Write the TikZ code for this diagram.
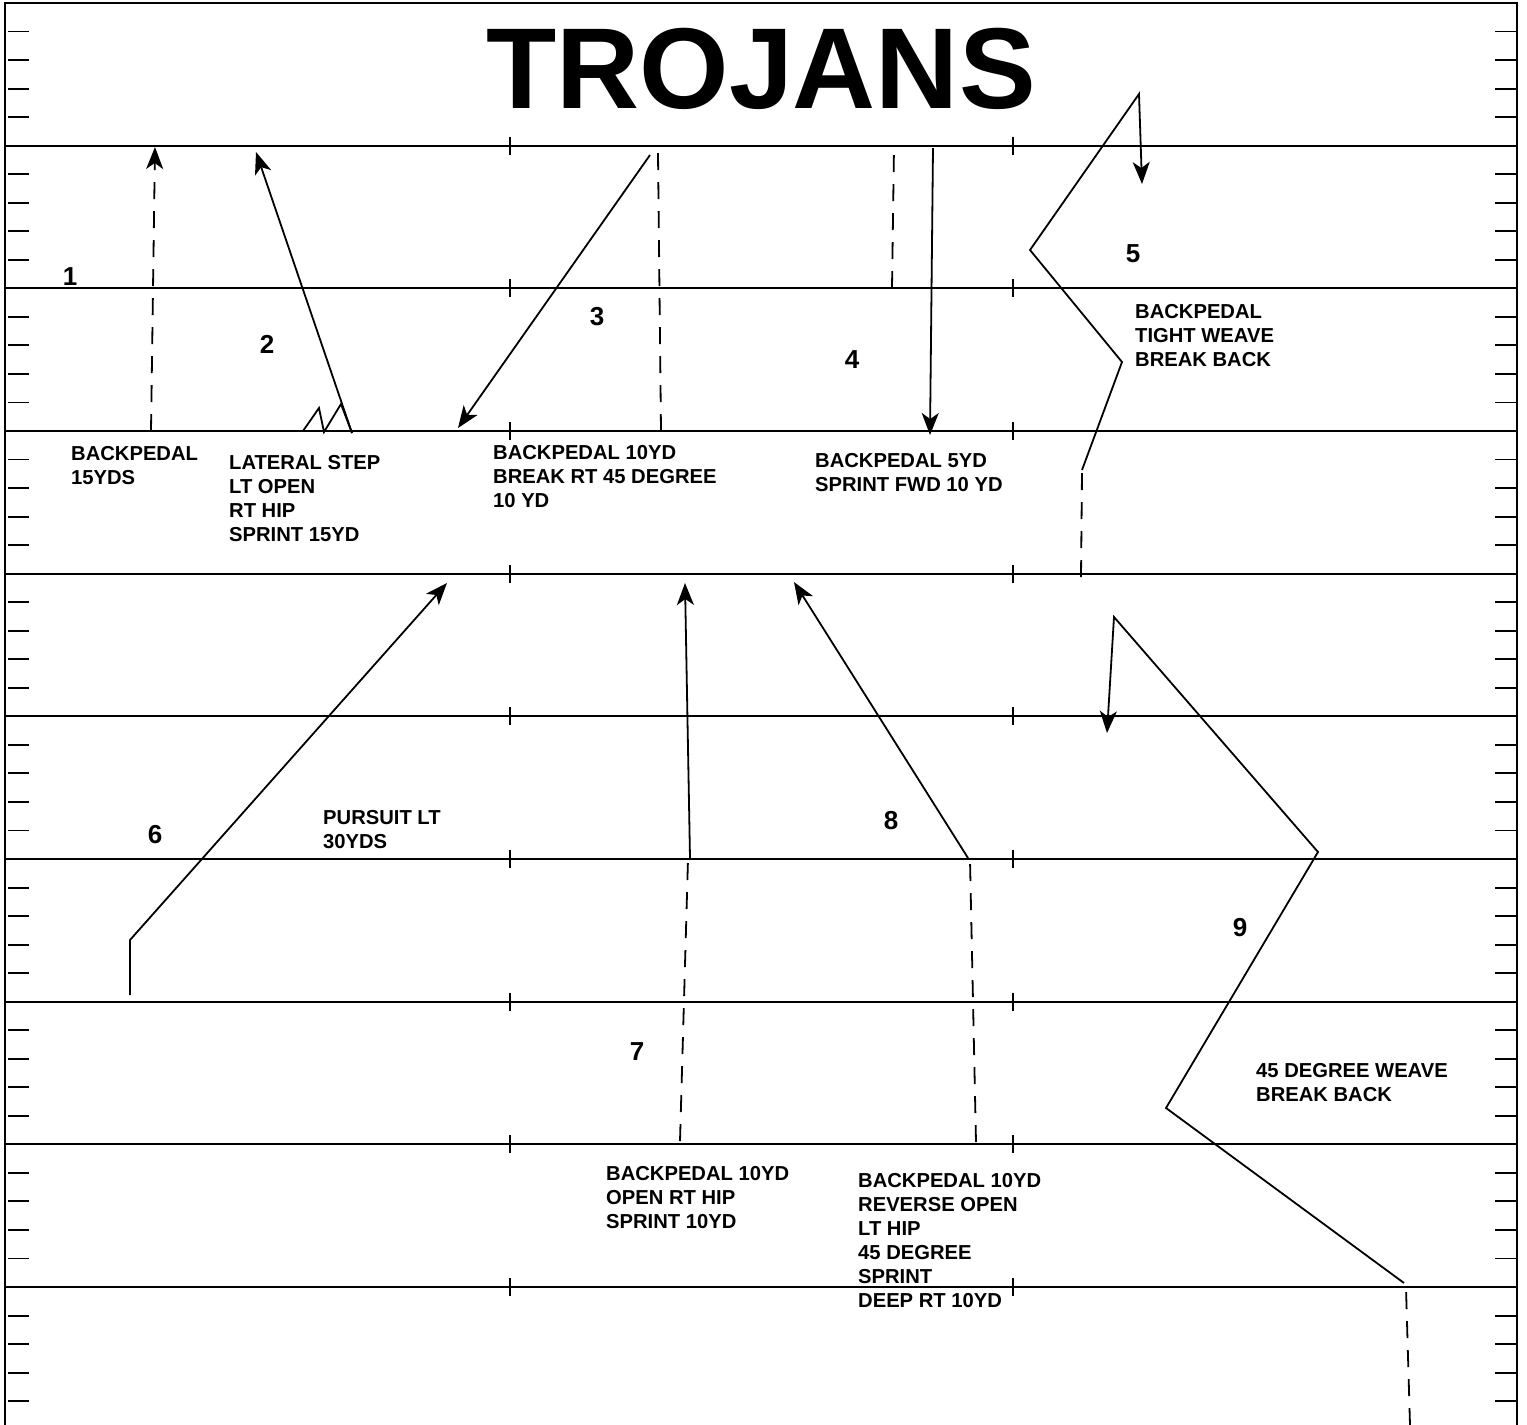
\documentclass[tikz,border=0pt]{standalone}
\usepackage{fontspec}
\setmainfont{Liberation Sans}
\usetikzlibrary{arrows.meta}
\begin{document}
\begin{tikzpicture}[x=1pt,y=-1pt,
  field/.style={line width=1.9pt},
  border/.style={line width=2.6pt},
  route/.style={line width=1.8pt, line join=miter},
  dsh/.style={line width=1.8pt, dash pattern=on 17pt off 12pt},
  arr/.style={-{Stealth[length=22pt,width=17pt,inset=6pt]}},
  num/.style={font=\fontsize{26}{26}\selectfont\bfseries, inner sep=0},
  lbl/.style={font=\fontsize{20.2}{24}\selectfont\bfseries, inner sep=0, anchor=north west, align=left},
]
\useasboundingbox (0,0) rectangle (1527,1425);
\fill[white] (0,0) rectangle (1527,1425);
% field
\draw[border] (5,1425) -- (5,3) -- (1517,3) -- (1517,1425);
\foreach \k in {1,...,9} {
  \draw[field] (5,{3+142.67*\k}) -- (1517,{3+142.67*\k});
  \draw[field] (510,{3+142.67*\k-9}) -- (510,{3+142.67*\k+9});
  \draw[field] (1013,{3+142.67*\k-9}) -- (1013,{3+142.67*\k+9});
}
\foreach \k in {0,...,9} {
  \foreach \j in {1,...,4} {
    \draw[field] (8,{3+142.67*\k+28.53*\j}) -- (29,{3+142.67*\k+28.53*\j});
    \draw[field] (1495,{3+142.67*\k+28.53*\j}) -- (1516,{3+142.67*\k+28.53*\j});
  }
}
% title
\node[font=\fontsize{115}{115}\selectfont\bfseries, inner sep=0, anchor=base] (title) at (761,108) {TROJANS};

% drill 1
\coordinate (a1) at (151,431);
\coordinate (b1) at (155,147);
\draw[dsh, arr] (a1) -- (b1);
\node[num] (n1) at (70,277) {1};
\node[lbl] (t1) at (71,446) {BACKPEDAL\\15YDS};

% drill 2
\coordinate (a2) at (303,431);
\coordinate (a2b) at (319,408);
\coordinate (a2c) at (324,432);
\coordinate (a2d) at (341,404);
\coordinate (a2e) at (352,433);
\coordinate (b2) at (256,152);
\draw[route] (a2) -- (a2b) -- (a2c) -- (a2d) -- (a2e);
\draw[route, arr] (a2e) -- (b2);
\node[num] (n2) at (267,344) {2};
\node[lbl] (t2) at (229,455) {LATERAL STEP\\LT OPEN\\RT HIP\\SPRINT 15YD};

% drill 3
\coordinate (a3) at (661,431);
\coordinate (a3b) at (658,153);
\coordinate (c3) at (650,155);
\coordinate (b3) at (458,428);
\draw[dsh] (a3) -- (a3b);
\draw[route, arr] (c3) -- (b3);
\node[num] (n3) at (597,317) {3};
\node[lbl] (t3) at (493,445) {BACKPEDAL 10YD\\BREAK RT 45 DEGREE\\10 YD};

% drill 4
\coordinate (a4) at (892,288);
\coordinate (a4b) at (894,147);
\coordinate (c4) at (933,148);
\coordinate (b4) at (930,435);
\draw[dsh] (a4) -- (a4b);
\draw[route, arr] (c4) -- (b4);
\node[num] (n4) at (852,360) {4};
\node[lbl] (t4) at (815,453) {BACKPEDAL 5YD\\SPRINT FWD 10 YD};

% drill 5
\coordinate (a5) at (1081,577);
\coordinate (a5b) at (1082,473);
\coordinate (c5) at (1082,470);
\coordinate (c5b) at (1122,362);
\coordinate (c5c) at (1030,250);
\coordinate (c5d) at (1139,94);
\coordinate (b5) at (1142,184);
\draw[dsh] (a5) -- (a5b);
\draw[route, arr] (c5) -- (c5b) -- (c5c) -- (c5d) -- (b5);
\node[num] (n5) at (1133,254) {5};
\node[lbl] (t5) at (1135,304) {BACKPEDAL\\TIGHT WEAVE\\BREAK BACK};

% drill 6
\coordinate (a6) at (130,995);
\coordinate (a6b) at (130,940);
\coordinate (b6) at (447,583);
\draw[route, arr] (a6) -- (a6b) -- (b6);
\node[num] (n6) at (155,835) {6};
\node[lbl] (t6) at (323,810) {PURSUIT LT\\30YDS};

% drill 7
\coordinate (a7) at (680,1141);
\coordinate (a7b) at (688,859);
\coordinate (c7) at (690,858);
\coordinate (b7) at (685,583);
\draw[dsh] (a7) -- (a7b);
\draw[route, arr] (c7) -- (b7);
\node[num] (n7) at (637,1052) {7};
\node[lbl] (t7) at (606,1166) {BACKPEDAL 10YD\\OPEN RT HIP\\SPRINT 10YD};

% drill 8
\coordinate (a8) at (976,1142);
\coordinate (a8b) at (970,860);
\coordinate (c8) at (968,858);
\coordinate (b8) at (794,582);
\draw[dsh] (a8) -- (a8b);
\draw[route, arr] (c8) -- (b8);
\node[num] (n8) at (891,821) {8};
\node[lbl] (t8) at (858,1173) {BACKPEDAL 10YD\\REVERSE OPEN\\LT HIP\\45 DEGREE\\SPRINT\\DEEP RT 10YD};

% drill 9
\coordinate (a9) at (1410,1425);
\coordinate (a9b) at (1406,1288);
\coordinate (c9) at (1404,1283);
\coordinate (c9b) at (1166,1108);
\coordinate (c9c) at (1318,852);
\coordinate (c9d) at (1114,617);
\coordinate (b9) at (1107,733);
\draw[dsh] (a9) -- (a9b);
\draw[route, arr] (c9) -- (c9b) -- (c9c) -- (c9d) -- (b9);
\node[num] (n9) at (1240,928) {9};
\node[lbl] (t9) at (1256,1063) {45 DEGREE WEAVE\\BREAK BACK};
\end{tikzpicture}
\end{document}
